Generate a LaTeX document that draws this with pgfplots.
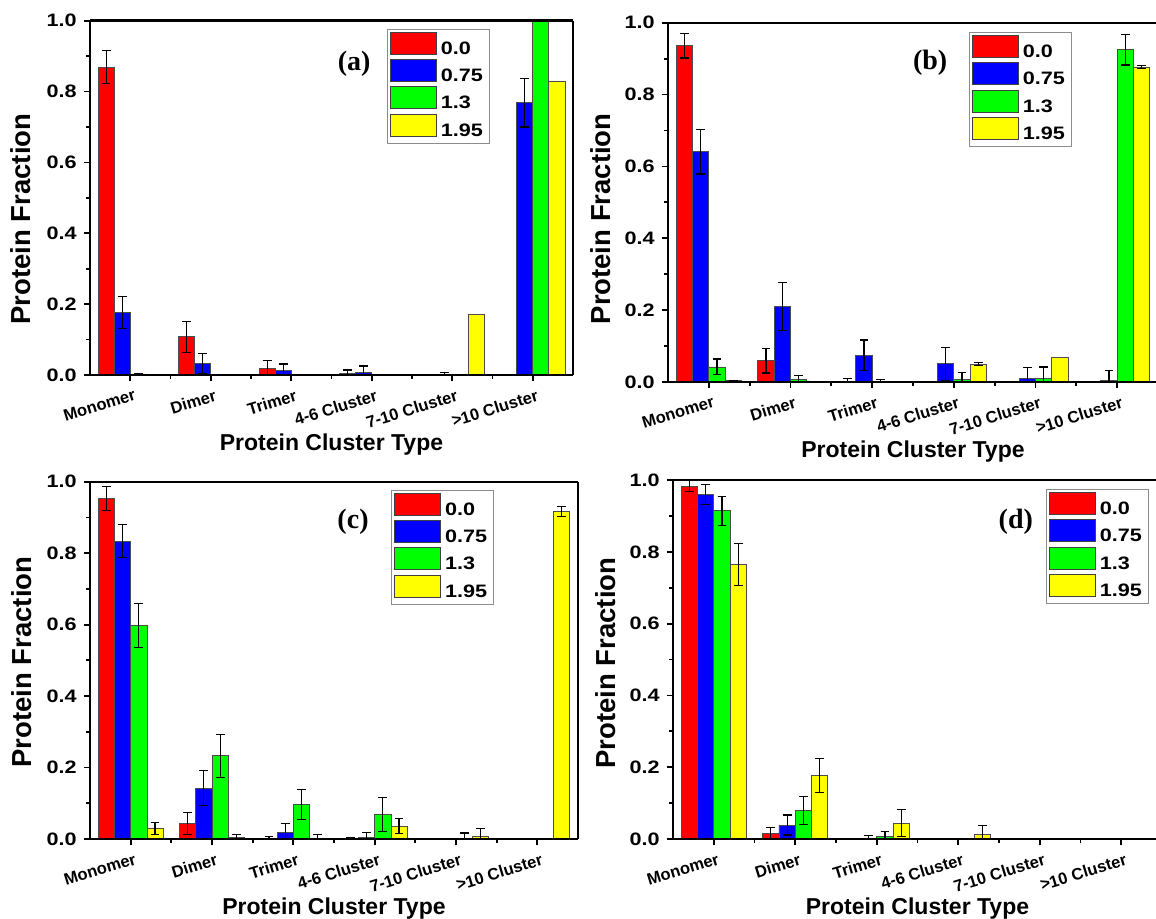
\documentclass[border=0pt]{standalone}
\usepackage{fontspec}
\setmainfont{Liberation Sans}
\newfontfamily\numfont{Liberation Sans}[FakeStretch=1.2]
\newfontfamily\serfont{Liberation Serif}
\usepackage{pgfplots}
\usepackage{pgfplotstable}
\pgfplotsset{compat=1.18}

\definecolor{cred}{RGB}{255,0,0}
\definecolor{cblue}{RGB}{0,0,255}
\definecolor{cgreen}{RGB}{0,255,0}
\definecolor{cyellow}{RGB}{255,255,0}

% columns: x, red, err, blue, err, green, err, yellow, err
\pgfplotstableread{
x r re b be g ge y ye
0 0.869 0.047 0.177 0.045 0.003 0.001 0 0
1 0.108 0.044 0.032 0.028 0 0 0 0
2 0.018 0.022 0.013 0.018 0 0 0 0
3 0.004 0.010 0.0075 0.018 0 0 0 0
4 0 0 0.001 0.005 0 0 0.170 0
5 0 0 0.768 0.068 1.0 0.002 0.830 0
}\tabA
\pgfplotstableread{
x r re b be g ge y ye
0 0.936 0.034 0.641 0.062 0.042 0.022 0.004 0
1 0.059 0.034 0.210 0.066 0.0065 0.011 0 0
2 0.002 0.007 0.075 0.042 0.001 0.0055 0 0
3 0 0 0.051 0.046 0.0074 0.020 0.050 0.004
4 0 0 0.009 0.032 0.011 0.031 0 0
5 0 0 0.005 0.026 0.925 0.043 0.876 0.004
}\tabB
\pgfplotstableread{
x r re b be g ge y ye
0 0.953 0.033 0.834 0.047 0.597 0.062 0.030 0.017
1 0.044 0.031 0.142 0.049 0.233 0.060 0.004 0.008
2 0.002 0.005 0.019 0.024 0.097 0.042 0.002 0.010
3 0.001 0.003 0.004 0.014 0.068 0.048 0.036 0.021
4 0 0 0 0 0.001 0.016 0.007 0.022
5 0 0 0 0 0 0 0.916 0.014
}\tabC
\pgfplotstableread{
x r re b be g ge y ye
0 0.983 0.015 0.959 0.028 0.914 0.041 0.765 0.059
1 0.016 0.017 0.039 0.028 0.079 0.039 0.177 0.048
2 0 0 0.001 0.009 0.006 0.014 0.044 0.038
3 0 0 0 0 0 0 0.013 0.025
4 0 0 0 0 0 0 0 0
5 0 0 0 0 0 0 0 0
}\tabD

\pgfplotsset{
  panel/.style={
    scale only axis,
    ybar, bar width=0.2,
    xmin=-0.5, xmax=5.5, ymin=0, ymax=1,
    xtick={0,...,5},
    xticklabels={Monomer,Dimer,Trimer,4-6 Cluster,7-10 Cluster,>10 Cluster},
    minor x tick num=1,
    ytick={0,0.2,...,1.0},
    minor y tick num=1,
    tick pos=left, tick align=outside,
    major tick length=3.2pt, minor tick length=2pt,
    every tick/.style={black, line width=0.9pt},
    separate axis lines,
    axis line style={line width=1.2pt, black},
    axis on top,
    /pgf/number format/assume math mode=true,
    yticklabel style={font=\numfont\bfseries\fontsize{9}{10}\selectfont,
      /pgf/number format/.cd, fixed, fixed zerofill, precision=1},
    xticklabel style={font=\bfseries\fontsize{8.25}{10}\selectfont, rotate=17, anchor=north east, inner sep=0.5pt, yshift=-3.5pt, xshift=1pt},
    xlabel={Protein Cluster Type},
    ylabel={Protein Fraction},
    xlabel style={font=\bfseries\fontsize{11.5}{13}\selectfont, at={(rel axis cs:0.5,0)}, anchor=base, yshift=-37.5pt},
    ylabel style={font=\bfseries\fontsize{13.75}{16}\selectfont, anchor=center},
    legend image code/.code={\draw[#1, draw=black!75, line width=0.5pt] (0pt,-2.4pt) rectangle (23pt,8.6pt);},
    legend style={anchor=north east, draw=black!45, line width=0.6pt, fill=white,
      font=\numfont\bfseries\fontsize{9}{10}\selectfont, inner sep=1.2pt, row sep=0pt,
      nodes={inner ysep=0.9pt, inner xsep=2pt}},
    legend cell align=left,
  },
  eb/.style={error bars/y dir=both, error bars/y explicit,
    error bars/error bar style={line width=0.6pt, black},
    error bars/error mark options={rotate=90, mark size=2.2pt, line width=0.6pt, black}},
  bred/.style={fill=cred, draw=black!70, line width=0.4pt, bar shift=-0.3},
  bblue/.style={fill=cblue, draw=black!70, line width=0.4pt, bar shift=-0.1},
  bgreen/.style={fill=cgreen, draw=black!70, line width=0.4pt, bar shift=0.1},
  byellow/.style={fill=cyellow, draw=black!70, line width=0.4pt, bar shift=0.3},
}

\begin{document}
\begin{tikzpicture}
\path[use as bounding box] (0,0) rectangle (578pt,459pt);

% (a)
\begin{axis}[panel, at={(45pt,271.5pt)}, anchor=south west, width=241.5pt, height=177.15pt,
  ylabel style={at={(rel axis cs:-0.143,0.44)}},
  legend style={at={(0.828,0.977)}}]
\addplot[bred, eb] table[x=x, y=r, y error=re] {\tabA};
\addplot[bblue, eb] table[x=x, y=b, y error=be] {\tabA};
\addplot[bgreen, eb] table[x=x, y=g, y error=ge] {\tabA};
\addplot[byellow] table[x=x, y=y] {\tabA};
\legend{0.0,0.75,1.3,1.95}
\node[font=\serfont\bfseries\fontsize{14}{16}\selectfont] at (rel axis cs:0.547,0.878) {(a)};
\end{axis}

% (b)
\begin{axis}[panel, at={(334pt,268pt)}, anchor=south west, width=245pt, height=179.65pt,
  ylabel style={at={(rel axis cs:-0.137,0.454)}},
  legend style={at={(0.8245,0.974)}}]
\addplot[bred, eb] table[x=x, y=r, y error=re] {\tabB};
\addplot[bblue, eb] table[x=x, y=b, y error=be] {\tabB};
\addplot[bgreen, eb] table[x=x, y=g, y error=ge] {\tabB};
\addplot[byellow, eb] table[x=x, y=y, y error=ye] {\tabB};
\addplot[byellow, forget plot] coordinates {(4,0.068)};
\legend{0.0,0.75,1.3,1.95}
\node[font=\serfont\bfseries\fontsize{14}{16}\selectfont] at (rel axis cs:0.535,0.888) {(b)};
\end{axis}

% (c)
\begin{axis}[panel, at={(45pt,39.5pt)}, anchor=south west, width=244pt, height=178.65pt,
  ylabel style={at={(rel axis cs:-0.139,0.495)}},
  legend style={at={(0.828,0.977)}}]
\addplot[bred, eb] table[x=x, y=r, y error=re] {\tabC};
\addplot[bblue, eb] table[x=x, y=b, y error=be] {\tabC};
\addplot[bgreen, eb] table[x=x, y=g, y error=ge] {\tabC};
\addplot[byellow, eb] table[x=x, y=y, y error=ye] {\tabC};
\legend{0.0,0.75,1.3,1.95}
\node[font=\serfont\bfseries\fontsize{14}{16}\selectfont] at (rel axis cs:0.539,0.887) {(c)};
\end{axis}

% (d)
\begin{axis}[panel, at={(336.5pt,39.5pt)}, anchor=south west, width=244.5pt, height=179.5pt,
  ylabel style={at={(rel axis cs:-0.137,0.49)}},
  legend style={at={(0.973,0.975)}}]
\addplot[bred, eb] table[x=x, y=r, y error=re] {\tabD};
\addplot[bblue, eb] table[x=x, y=b, y error=be] {\tabD};
\addplot[bgreen, eb] table[x=x, y=g, y error=ge] {\tabD};
\addplot[byellow, eb] table[x=x, y=y, y error=ye] {\tabD};
\legend{0.0,0.75,1.3,1.95}
\node[font=\serfont\bfseries\fontsize{14}{16}\selectfont] at (rel axis cs:0.701,0.883) {(d)};
\end{axis}
\end{tikzpicture}
\end{document}
